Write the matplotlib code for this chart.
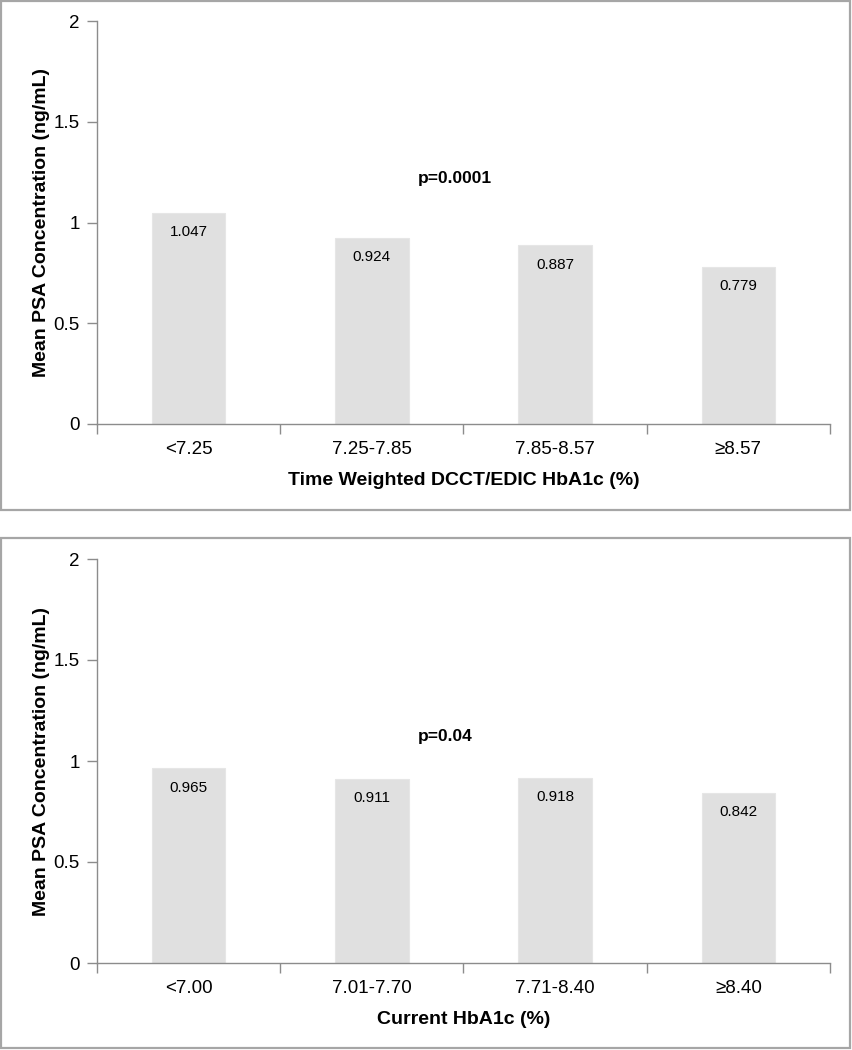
import matplotlib
matplotlib.use("Agg")
import matplotlib.pyplot as plt
from matplotlib.patches import Rectangle
import numpy as np

plt.rcParams['font.family'] = ['Liberation Sans', 'DejaVu Sans']

cats_top = ["<7.25", "7.25-7.85", "7.85-8.57", "≥8.57"]
vals_top = [1.047, 0.924, 0.887, 0.779]
xlabel_top = "Time Weighted DCCT/EDIC HbA1c (%)"
p_top = "p=0.0001"

cats_bot = ["<7.00", "7.01-7.70", "7.71-8.40", "≥8.40"]
vals_bot = [0.965, 0.911, 0.918, 0.842]
xlabel_bot = "Current HbA1c (%)"
p_bot = "p=0.04"

ylabel = "Mean PSA Concentration (ng/mL)"
yticks = [0, 0.5, 1, 1.5, 2]
ytick_labels = ["0", "0.5", "1", "1.5", "2"]

W, H = 853, 1050
fig = plt.figure(figsize=(W / 100, H / 100), dpi=100)

border_col = "#a6a6a6"
spine_col = "#8c8c8c"
bar_col = "#e0e0e0"

def fx(px):
    return px / W

def fy(py):
    return 1 - py / H

# panel borders
for (top, bot) in [(1.5, 510), (538, 1048)]:
    fig.patches.append(Rectangle((fx(1.5), fy(bot)), fx(850.5 - 1.5), fy(top) - fy(bot),
                                 transform=fig.transFigure, fill=False,
                                 edgecolor=border_col, linewidth=1.6))

def panel(ax, cats, vals, xlabel, ptxt, py):
    x = np.arange(len(cats))
    ax.bar(x, vals, width=0.4, color=bar_col, edgecolor="#e6e6e6",
           linewidth=0.8, zorder=2)
    for xi, v in zip(x, vals):
        ax.annotate(f"{v:.3f}", (xi, v), xytext=(0, -14), textcoords="offset points",
                    ha="center", va="center", fontsize=11, color="black", zorder=3)
    ax.set_xlim(-0.5, len(cats) - 0.5)
    ax.set_ylim(0, 2)
    ax.set_yticks(yticks)
    ax.set_yticklabels(ytick_labels, fontsize=13.5)
    ax.set_xticks(x)
    ax.set_xticklabels(cats, fontsize=13.5)
    ax.set_xticks(np.arange(-0.5, len(cats), 1.0), minor=True)
    ax.tick_params(axis="x", which="major", length=0, pad=12.5)
    ax.tick_params(axis="x", which="minor", length=7, color=spine_col, width=1)
    ax.tick_params(axis="y", length=7, color=spine_col, width=1, pad=5.5)
    for s in ["top", "right"]:
        ax.spines[s].set_visible(False)
    for s in ["left", "bottom"]:
        ax.spines[s].set_color(spine_col)
        ax.spines[s].set_linewidth(1)
    ax.set_xlabel(xlabel, fontsize=14, fontweight="bold", labelpad=9.5)
    ax.set_ylabel(ylabel, fontsize=14, fontweight="bold", labelpad=2.5)
    ax.text(1.25, py, ptxt, fontsize=12.5, fontweight="bold", ha="left", va="center")

ax1 = fig.add_axes([fx(97), fy(424), fx(830 - 97), fy(21) - fy(424)])
panel(ax1, cats_top, vals_top, xlabel_top, p_top, 1.22)

ax2 = fig.add_axes([fx(97), fy(963), fx(830 - 97), fy(559) - fy(963)])
panel(ax2, cats_bot, vals_bot, xlabel_bot, p_bot, 1.12)

fig.savefig("out.png", dpi=100)
